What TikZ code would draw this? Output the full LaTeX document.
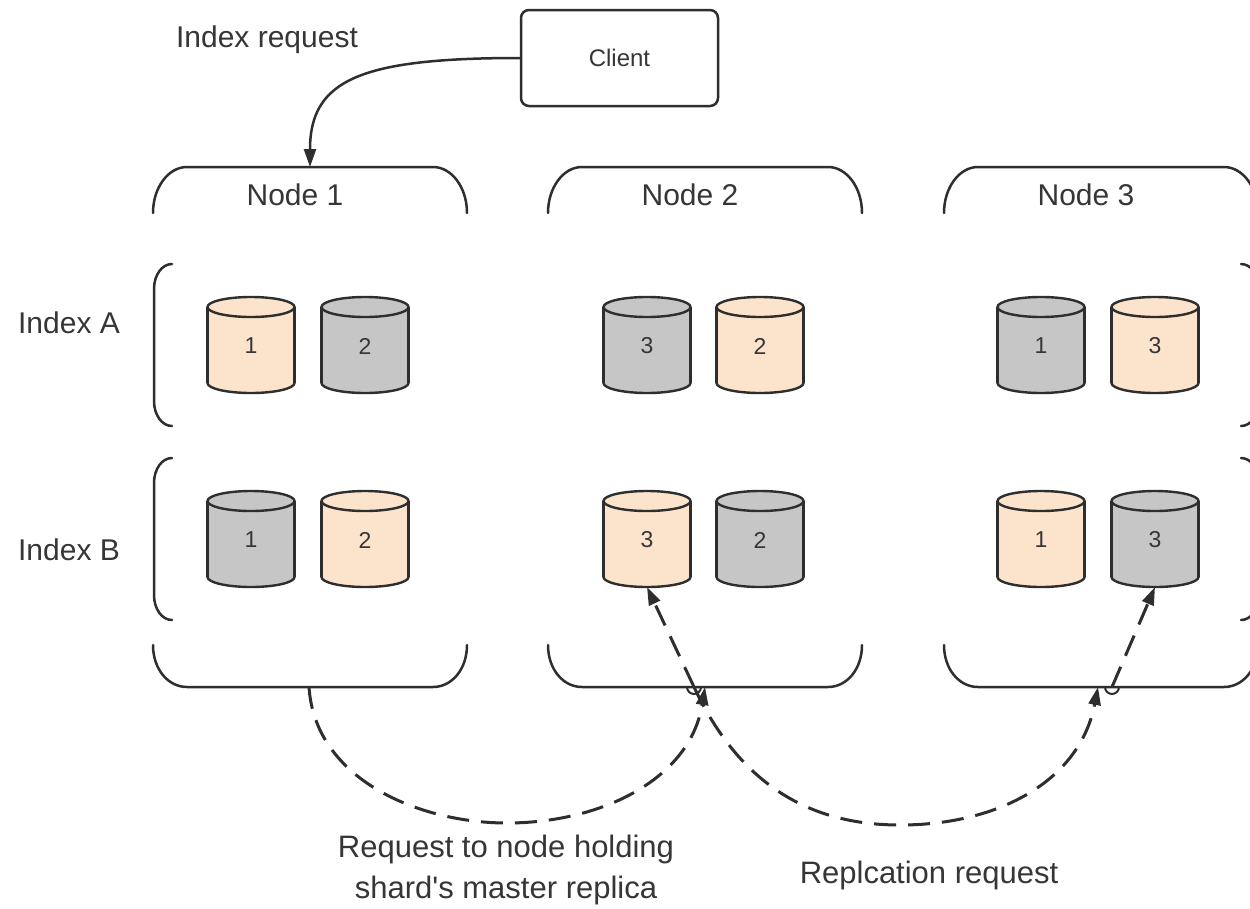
\documentclass[tikz,border=0pt]{standalone}
\usepackage{fontspec}
\setmainfont{Liberation Sans}[Ligatures=TeXOff]
\usetikzlibrary{arrows.meta}

\definecolor{ink}{HTML}{2E2E2E}
\definecolor{txt}{HTML}{363636}
\definecolor{master}{HTML}{FCE4CC}
\definecolor{replica}{HTML}{C6C6C6}

\tikzset{
  frame/.style={draw=ink, line width=2.5pt, line cap=round},
  shardline/.style={draw=ink, line width=2.4pt},
  digit/.style={text=txt, font=\fontsize{23}{26}\selectfont, inner sep=0pt},
  label/.style={text=txt, font=\fontsize{30}{36}\selectfont, inner sep=0pt},
  req/.style={draw=ink, line width=3pt, dash pattern=on 22pt off 12pt,
    -{Triangle[length=18pt,width=12pt]}},
  conn/.style={draw=ink, line width=2.5pt, -{Triangle[length=18pt,width=12pt]}}
}

% one shard: name, centre x, top y, fill colour, shard number
\newcommand{\shard}[5]{%
  \begin{scope}[shift={(#2,#3)}]
    \filldraw[shardline, fill=#4] (0,86) ellipse[x radius=43.5, y radius=10];
    \fill[#4] (-43.5,10) rectangle (43.5,86);
    \draw[shardline] (-43.5,10) -- (-43.5,86) (43.5,10) -- (43.5,86);
    \filldraw[shardline, fill=#4] (0,10) ellipse[x radius=43.5, y radius=10];
  \end{scope}
  \node[digit] (#1) at (#2,#3+49) {#5};
  \coordinate (#1-bot) at (#2,#3+96);
}

% node brackets: left x
\newcommand{\topbrace}[1]{%
  \draw[frame] (#1,213) .. controls (#1,187.6) and (#1+15.2,167) .. (#1+34,167)
    -- (#1+280,167) .. controls (#1+298.8,167) and (#1+314,187.6) .. (#1+314,213);
}
\newcommand{\bottombrace}[1]{%
  \draw[frame] (#1,645) .. controls (#1,669.3) and (#1+15.2,687) .. (#1+34,687)
    -- (#1+280,687) .. controls (#1+298.8,687) and (#1+314,669.3) .. (#1+314,645);
}
% index brackets: top y, bottom y
\newcommand{\indexbrace}[2]{%
  \draw[frame] (172,#1) .. controls (162,#1) and (154,#1+11) .. (154,#1+25)
    -- (154,#2-25) .. controls (154,#2-11) and (162,#2) .. (172,#2);
  \draw[frame] (1241,#1) .. controls (1251,#1) and (1259,#1+11) .. (1259,#1+25)
    -- (1259,#2-25) .. controls (1259,#2-11) and (1251,#2) .. (1241,#2);
}

\begin{document}
\begin{tikzpicture}[x=1pt, y=-1pt]
  \useasboundingbox (0,0) rectangle (1250,908);
  \fill[white] (0,0) rectangle (1250,908);

  % client and the incoming index request
  \node[frame, rounded corners=8pt, minimum width=197pt, minimum height=96pt,
        text=txt, font=\fontsize{24}{28}\selectfont] (client) at (619.5,58) {Client};
  \node[label] (reqlabel) at (267,40) {Index request};

  % cluster nodes
  \topbrace{153}
  \topbrace{548}
  \topbrace{944}
  \bottombrace{153}
  \bottombrace{548}
  \bottombrace{944}
  \node[label] (node1) at (295,195) {Node 1};
  \node[label] (node2) at (690,195) {Node 2};
  \node[label] (node3) at (1086,195) {Node 3};

  % indices
  \indexbrace{264}{426}
  \indexbrace{458}{620}
  \node[label] (idxA) at (69,323) {Index A};
  \node[label] (idxB) at (69,550) {Index B};

  % Index A shards
  \shard{n1a1}{251}{297}{master}{1}
  \shard{n1a2}{365}{297}{replica}{2}
  \shard{n2a1}{647}{297}{replica}{3}
  \shard{n2a2}{760}{297}{master}{2}
  \shard{n3a1}{1041}{297}{replica}{1}
  \shard{n3a2}{1155}{297}{master}{3}
  % Index B shards
  \shard{n1b1}{251}{491}{replica}{1}
  \shard{n1b2}{365}{491}{master}{2}
  \shard{n2b1}{647}{491}{master}{3}
  \shard{n2b2}{760}{491}{replica}{2}
  \shard{n3b1}{1041}{491}{master}{1}
  \shard{n3b2}{1155}{491}{replica}{3}

  % anchor points on the node brackets
  \coordinate (n1in) at (310,167);
  \coordinate (n1out) at (309,687);
  \coordinate (n2in) at (705,687);
  \coordinate (hop2) at (694,687);
  \coordinate (n3in) at (1098,687);
  \coordinate (hop3) at (1112,687);

  % index request from the client
  \draw[conn] (client.west) .. controls (360,58) and (310,80) .. (n1in);

  % forwarding to the master, then replication
  \draw[req] (n1out) .. controls (315,780) and (420,823) .. (507,823)
    .. controls (600,823) and (690,780) .. (n2in);
  \draw[req] (hop2) -- (n2b1-bot);
  \draw[req] (hop2) .. controls (740,785) and (810,825) .. (900,825)
    .. controls (1000,825) and (1080,780) .. (n3in);
  \draw[req] (hop3) -- (n3b2-bot);

  % line jumps
  \draw[frame, line width=2pt] (hop2) ++(-7,0) arc[start angle=180, end angle=0, radius=7];
  \draw[frame, line width=2pt] (hop3) ++(-7,0) arc[start angle=180, end angle=0, radius=7];

  % captions
  \node[label, anchor=base, font=\fontsize{31}{36}\selectfont] (cap1a) at (506,857) {Request to node holding};
  \node[label, anchor=base, font=\fontsize{31}{36}\selectfont] (cap1b) at (506,898) {shard's master replica};
  \node[label, anchor=base, font=\fontsize{31}{36}\selectfont] (cap2) at (929,883) {Replcation request};
\end{tikzpicture}
\end{document}
